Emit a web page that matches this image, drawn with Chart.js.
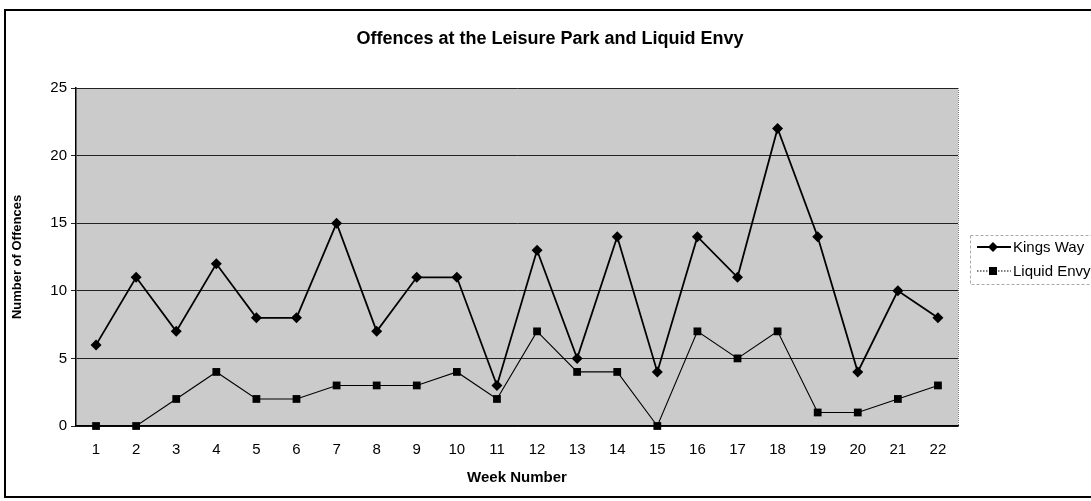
<!DOCTYPE html>
<html>
<head>
<meta charset="utf-8">
<script src="https://cdn.jsdelivr.net/npm/chart.js@4/dist/chart.umd.min.js"></script>
<style>
  html, body { margin: 0; padding: 0; background: #fff; }
  #wrap { width: 1091px; height: 501px; position: relative; }
</style>
</head>
<body>
<div id="wrap"><canvas id="c"></canvas></div>
<script>
const chartTitle = "Offences at the Leisure Park and Liquid Envy";
const xAxisTitle = "Week Number";
const yAxisTitle = "Number of Offences";
const weeks = ["1","2","3","4","5","6","7","8","9","10","11","12","13","14","15","16","17","18","19","20","21","22"];
const kingsWay = [6, 11, 7, 12, 8, 8, 15, 7, 11, 11, 3, 13, 5, 14, 4, 14, 11, 22, 14, 4, 10, 8];
const liquidEnvy = [0, 0, 2, 4, 2, 2, 3, 3, 3, 4, 2, 7, 4, 4, 0, 7, 5, 7, 1, 1, 2, 3];
const seriesNames = ["Kings Way", "Liquid Envy"];
const yMin = 0, yMax = 25, yStep = 5;

const FONT = "'Liberation Sans', Arial, sans-serif";

const framePlugin = {
  id: 'frame',
  beforeDraw(chart) {
    const ctx = chart.ctx;
    const a = chart.chartArea;
    ctx.save();
    // plot background
    ctx.fillStyle = '#cbcbcb';
    ctx.fillRect(a.left, a.top, a.right - a.left, a.bottom - a.top);
    // dotted top/right border of plot area
    ctx.strokeStyle = '#777';
    ctx.lineWidth = 1;
    ctx.setLineDash([1, 1]);
    ctx.beginPath();
    ctx.moveTo(a.left, a.top + 0.5);
    ctx.lineTo(a.right + 0.5, a.top + 0.5);
    ctx.lineTo(a.right + 0.5, a.bottom);
    ctx.stroke();
    ctx.setLineDash([]);
    // outer chart border
    ctx.strokeStyle = '#000';
    ctx.lineWidth = 2;
    ctx.beginPath();
    ctx.moveTo(1095, 10);
    ctx.lineTo(5, 10);
    ctx.lineTo(5, 497);
    ctx.lineTo(1095, 497);
    ctx.stroke();
    // chart title
    ctx.fillStyle = '#000';
    ctx.font = "bold 18px " + FONT;
    ctx.textAlign = 'center';
    ctx.textBaseline = 'middle';
    ctx.fillText(chartTitle, 550, 39);
    ctx.restore();
  },
  afterDraw(chart) {
    const ctx = chart.ctx;
    ctx.save();
    // legend box
    ctx.strokeStyle = '#aaa';
    ctx.lineWidth = 1;
    ctx.setLineDash([3, 2]);
    ctx.strokeRect(970.5, 235.5, 130, 49);
    ctx.setLineDash([]);
    const rows = [247, 271];
    chart.data.datasets.forEach((ds, i) => {
      const y = rows[i];
      ctx.strokeStyle = '#000';
      ctx.lineWidth = ds.borderWidth;
      if (i === 1) ctx.setLineDash([1.5, 1.5]);
      ctx.beginPath();
      ctx.moveTo(977, y);
      ctx.lineTo(1011, y);
      ctx.stroke();
      ctx.setLineDash([]);
      ctx.fillStyle = '#000';
      ctx.beginPath();
      if (ds.pointStyle === 'rectRot') {
        const r = 5;
        ctx.moveTo(993, y - r); ctx.lineTo(993 + r, y); ctx.lineTo(993, y + r); ctx.lineTo(993 - r, y); ctx.closePath();
      } else {
        ctx.rect(993 - 4, y - 4, 8, 8);
      }
      ctx.fill();
      ctx.font = "15px " + FONT;
      ctx.textBaseline = 'middle';
      ctx.textAlign = 'left';
      ctx.fillText(ds.label, 1013, y + 1);
    });
    ctx.restore();
  }
};

new Chart(document.getElementById('c'), {
  type: 'line',
  data: {
    labels: weeks,
    datasets: [
      {
        label: seriesNames[0],
        data: kingsWay,
        borderColor: '#000',
        backgroundColor: '#000',
        borderWidth: 1.8,
        pointStyle: 'rectRot',
        pointRadius: 5.5,
        pointBorderWidth: 0,
        tension: 0,
        clip: false
      },
      {
        label: seriesNames[1],
        data: liquidEnvy,
        borderColor: '#000',
        backgroundColor: '#000',
        borderWidth: 1.1,
        pointStyle: 'rect',
        pointRadius: 5.5,
        pointBorderWidth: 0,
        tension: 0,
        clip: false
      }
    ]
  },
  options: {
    responsive: true,
    maintainAspectRatio: false,
    animation: false,
    devicePixelRatio: 1,
    layout: { padding: { top: 88, right: 133, bottom: 0, left: 0 } },
    plugins: {
      legend: { display: false },
      tooltip: { enabled: false },
      title: { display: false }
    },
    scales: {
      x: {
        offset: true,
        grid: { display: false, drawTicks: false },
        border: { display: true, color: '#000', width: 1.5 },
        ticks: { color: '#000', font: { family: FONT, size: 15 }, padding: 15, maxRotation: 0, autoSkip: false },
        title: { display: true, text: xAxisTitle, color: '#000', font: { family: FONT, size: 15, weight: 'bold' }, padding: { top: 0, bottom: 14 } },
        afterFit(s) { s.height = 75; }
      },
      y: {
        min: yMin, max: yMax,
        grid: { color: '#222', lineWidth: 1, tickLength: 5, drawOnChartArea: true },
        border: { display: true, color: '#000', width: 1.5 },
        ticks: { stepSize: yStep, color: '#000', font: { family: FONT, size: 15 }, padding: 4 },
        title: { display: true, text: yAxisTitle, color: '#000', font: { family: FONT, size: 13, weight: 'bold' }, padding: { top: 10, bottom: 0 } },
        afterFit(s) { s.width = 76; }
      }
    }
  },
  plugins: [framePlugin]
});
</script>
</body>
</html>
